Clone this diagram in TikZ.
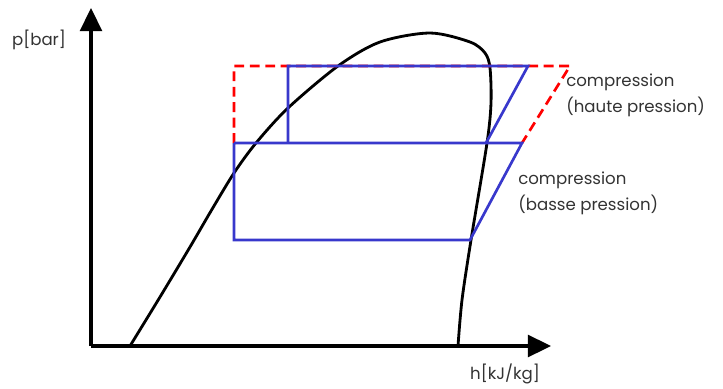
\documentclass[tikz,border=0pt]{standalone}
\usepackage{fontspec}
\setmainfont{Poppins}
\usepackage{tikz}
\usetikzlibrary{positioning}
\usetikzlibrary{arrows.meta}
\usepackage{xcolor}
\definecolor{cycleblue}{RGB}{56,56,204}
\definecolor{labelgray}{RGB}{51,51,51}

\begin{document}
\begin{tikzpicture}[
		x=0.025cm, y=-0.025cm,
		axis/.style = {line width=2.2pt, -{Triangle[length=0.58cm, width=0.55cm]}},
		lbl/.style = {text=labelgray, font=\fontsize{11.8}{18.4}\selectfont, inner sep=0pt, align=left},
		dome/.style = {line width=2pt, black},
		cyc/.style = {line width=1.9pt, cycleblue},
		ideal/.style = {line width=1.9pt, red, dash pattern=on 7pt off 4pt}
		]
		\useasboundingbox (0,0) rectangle (723,388);
		
		%Nodes
		\coordinate	(o)		at	(91, 346);
		\coordinate	(ytip)	at	(91, 8);
		\coordinate	(xtip)	at	(551, 346);
		\node[lbl]	(p)		at	(39, 40)	{p[bar]};
		\node[lbl]	(h)		at	(505, 374)	{h[kJ/kg]};
		\node[lbl, anchor=west]	(hp)	at	(566, 95)	{compression\\(haute pression)};
		\node[lbl, anchor=west]	(bp)	at	(518, 193)	{compression\\(basse pression)};
		
		%Cycle points
		\coordinate	(a1)	at	(234, 240);
		\coordinate	(a2)	at	(234, 143);
		\coordinate	(a3)	at	(522, 143);
		\coordinate	(a4)	at	(470, 240);
		\coordinate	(b1)	at	(288, 143);
		\coordinate	(b2)	at	(288, 66);
		\coordinate	(b3)	at	(528, 66);
		\coordinate	(b4)	at	(486, 143);
		\coordinate	(r1)	at	(234, 66);
		\coordinate	(r2)	at	(570, 66);
		
		%Lines
		\draw[dome]	plot[smooth, tension=0.5] coordinates {(130,346) (160,297) (190,247) (211,211) (234,173) (256,143) (288,108) (338,66) (380,42) (430,33) (470,42) (485,53) (490,68) (491,103) (487,143) (471,240) (462,300) (458,346)};
		\draw[ideal]	(a2)	--	(r1)	--	(r2)	--	(a3);
		\draw[cyc]	(a2)	--	(a1)	--	(a4)	--	(a3)	--	(a2);
		\draw[cyc]	(b1)	--	(b2)	--	(b3)	--	(b4);
		\draw[axis]	(o)	--	(ytip);
		\draw[axis]	(o)	--	(xtip);
	\end{tikzpicture}
\end{document}
